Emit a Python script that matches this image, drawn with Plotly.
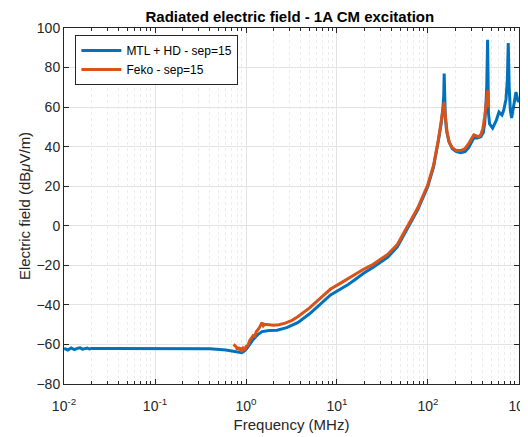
import plotly.graph_objects as go

# ---- data (frequency in MHz, field in dBuV/m) ----
mtl_freq = [0.01, 0.011, 0.012, 0.013, 0.014, 0.015, 0.016, 0.017, 0.018, 0.019, 0.02,
            0.03, 0.05, 0.1, 0.2, 0.4, 0.6, 0.8, 0.9, 0.95, 1.0, 1.1, 1.2, 1.35, 1.5,
            1.8, 2.2, 2.8, 3.7, 5.0, 6.5, 8.5, 10.5, 13, 16, 19.6, 25, 30, 36, 46,
            58.6, 77, 99, 115, 130, 140, 146, 149, 150.6, 152, 155, 160, 170, 185,
            205, 229, 255, 280, 305, 319, 350, 380, 405, 420, 432, 442, 452, 456,
            462, 475, 513, 560, 603, 650, 680, 720, 745, 762, 780, 805, 830, 870,
            927, 955, 980, 1000]
mtl_val = [-62.0, -62.8, -61.8, -62.6, -62.0, -61.7, -62.4, -62.0, -61.8, -62.3, -62.1,
           -62.0, -62.0, -62.0, -62.0, -62.2, -62.8, -63.8, -64.2, -63.5, -62.5, -60.0,
           -57.5, -55.0, -53.5, -53.0, -52.8, -51.5, -49.0, -44.5, -40.0, -35.0, -32.5,
           -30.0, -27.0, -24.0, -21.0, -18.5, -16.0, -10.7, -2.0, 8.0, 19.6, 29.7,
           43.0, 52.0, 60.0, 66.0, 77.0, 64.0, 55.0, 48.0, 42.5, 39.0, 37.5, 37.0,
           37.5, 39.5, 42.5, 44.5, 44.4, 45.0, 47.0, 52.0, 60.0, 70.0, 94.0, 68.0,
           57.0, 51.5, 49.4, 53.0, 57.5, 56.0, 58.5, 64.0, 74.0, 92.4, 70.0, 58.0,
           54.5, 60.0, 67.6, 65.0, 62.6, 63.6]

feko_freq = [0.73, 0.76, 0.78, 0.8, 0.82, 0.84, 0.86, 0.88, 0.9, 0.93, 0.97, 1.0,
             1.05, 1.1, 1.15, 1.2, 1.25, 1.3, 1.38, 1.45, 1.5, 1.55, 1.6, 1.8, 2.0,
             2.3, 2.7, 3.2, 3.7, 5.0, 6.5, 8.5, 10.5, 13, 16, 19.6, 25, 30, 36, 46,
             58.6, 77, 99, 115, 130, 140, 146, 150.6, 153, 157, 163, 172, 185, 205,
             229, 255, 280, 305, 319, 340, 360, 380, 400, 420, 435, 444, 452, 458, 465]
feko_val = [-60.0, -60.8, -61.2, -62.5, -61.3, -62.8, -61.5, -63.0, -63.6, -62.0, -63.0,
            -61.0, -60.5, -58.0, -57.0, -55.5, -55.8, -53.5, -52.0, -50.5, -49.0,
            -50.5, -49.8, -50.0, -50.3, -50.0, -49.2, -47.8, -46.0, -41.5, -37.0,
            -32.0, -29.5, -26.8, -24.5, -22.0, -19.5, -17.0, -14.5, -9.5, -1.0, 9.0,
            20.5, 30.5, 43.5, 52.0, 59.0, 62.5, 58.0, 52.0, 46.5, 42.0, 39.5, 38.0,
            38.0, 39.0, 41.5, 44.5, 46.0, 45.5, 45.0, 46.0, 49.0, 55.0, 62.0, 66.0,
            68.5, 64.0, 60.0]

x_tickvals = [0.01, 0.1, 1, 10, 100, 1000]
x_ticktext = ["10<sup>-2</sup>", "10<sup>-1</sup>", "10<sup>0</sup>",
              "10<sup>1</sup>", "10<sup>2</sup>", "10<sup>3</sup>"]
y_tickvals = [-80, -60, -40, -20, 0, 20, 40, 60, 80, 100]

BLUE = "#0072BD"
ORANGE = "#D95319"
FONT = "Liberation Sans, Arial, sans-serif"

fig = go.Figure()
fig.add_trace(go.Scatter(x=mtl_freq, y=mtl_val, mode="lines",
                         name="MTL + HD - sep=15",
                         line=dict(color=BLUE, width=3)))
fig.add_trace(go.Scatter(x=feko_freq, y=feko_val, mode="lines",
                         name="Feko - sep=15",
                         line=dict(color=ORANGE, width=3)))

# The page body has an 8px margin, so the figure is sized to fit inside it.
fig.update_layout(
    width=520, height=429,
    margin=dict(l=56, r=9, t=20, b=53),
    paper_bgcolor="white", plot_bgcolor="white",
    font=dict(family=FONT, size=14, color="#262626"),
    title=dict(text="<b>Radiated electric field - 1A CM excitation</b>",
               x=0.542, xanchor="center", y=0.992, yanchor="top",
               font=dict(size=15, color="black")),
    showlegend=True,
    legend=dict(x=0.025, y=0.98, xanchor="left", yanchor="top",
                bgcolor="white", bordercolor="#262626", borderwidth=1,
                font=dict(size=12, color="black"),
                tracegroupgap=0, itemwidth=40),
)

fig.update_xaxes(
    type="log", range=[-2, 3.0001], automargin=False,
    tickvals=x_tickvals, ticktext=x_ticktext,
    ticks="inside", ticklen=5, tickcolor="#262626",
    ticklabelstandoff=9, ticklabeloverflow="allow",
    showline=True, linecolor="#262626", linewidth=1, mirror="ticks",
    showgrid=True, gridcolor="#e3e3e3", gridwidth=1,
    minor=dict(dtick="D1", ticks="inside", ticklen=3, tickcolor="#262626",
               showgrid=True, gridcolor="#ececec", griddash="dot"),
    zeroline=False,
    title=dict(text="Frequency (MHz)", font=dict(size=15), standoff=6),
    tickfont=dict(size=14),
)
fig.update_yaxes(
    range=[-80, 100], tickvals=y_tickvals, automargin=False,
    ticks="inside", ticklen=5, tickcolor="#262626",
    showline=True, linecolor="#262626", linewidth=1, mirror="ticks",
    showgrid=True, gridcolor="#e3e3e3", gridwidth=1,
    zeroline=False,
    title=dict(text="Electric field (dB<i>μ</i>V/m)", font=dict(size=15), standoff=2),
    tickfont=dict(size=14),
)

fig.write_html("out.html")
